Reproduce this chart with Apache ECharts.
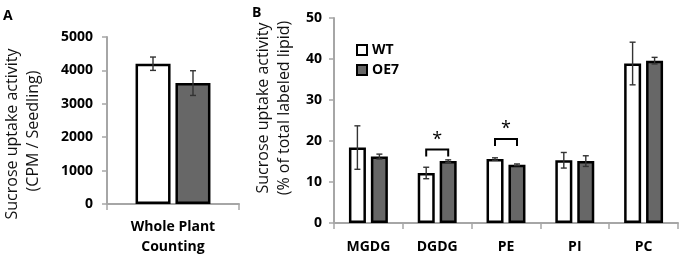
<!DOCTYPE html>
<html>
<head>
<meta charset="utf-8">
<script src="https://cdn.jsdelivr.net/npm/echarts@6/dist/echarts.min.js"></script>
<style>
  html, body { margin: 0; padding: 0; background: #fff; }
  #chart { width: 680px; height: 257px; }
</style>
</head>
<body>
<div id="chart"></div>
<script>
// panel A
var catsA = ['Whole Plant\nCounting']
var wtA = [4200]
var wtErrA = [200]
var oeA = [3620]
var oeErrA = [370]

// panel B
var catsB = ['MGDG', 'DGDG', 'PE', 'PI', 'PC']
var wtB = [18.4, 12.2, 15.6, 15.3, 38.9]
var wtErrB = [5.3, 1.4, 0.3, 1.9, 5.2]
var oeB = [16.2, 15.1, 14.2, 15.1, 39.6]
var oeErrB = [0.6, 0.3, 0.2, 1.3, 0.8]

// significance brackets (category index, bracket height)
var sigIndex = [1, 2]
var sigHeight = [17.9, 20.5]

var FONT = 'Open Sans'
var AXIS_GRAY = '#a6a6a6'
var OE_GRAY = '#676767'

var chart = echarts.init(document.getElementById('chart'))

function errRender(offset) {
  return function (params, api) {
    var x = api.value(0)
    var v = api.value(1)
    var e = api.value(2)
    var hi = api.coord([x, v + e])
    var lo = api.coord([x, v - e])
    var cx = hi[0] + offset
    var style = { stroke: '#333', lineWidth: 1.4 }
    return {
      type: 'group',
      children: [
        { type: 'line', shape: { x1: cx, y1: hi[1], x2: cx, y2: lo[1] }, style: style },
        { type: 'line', shape: { x1: cx - 3, y1: hi[1], x2: cx + 3, y2: hi[1] }, style: style },
        { type: 'line', shape: { x1: cx - 3, y1: lo[1], x2: cx + 3, y2: lo[1] }, style: style }
      ]
    }
  }
}

function errData(vals, errs) {
  return vals.map(function (v, i) { return [i, v, errs[i]] })
}

function barSeries(name, data, xi, width, gap, fill) {
  return {
    name: name,
    type: 'bar',
    xAxisIndex: xi,
    yAxisIndex: xi,
    data: data,
    barWidth: width,
    barGap: gap,
    itemStyle: { color: fill, borderColor: '#000', borderWidth: 2.5 },
    emphasis: { disabled: true },
    z: 2
  }
}

function axisY(max, interval, gi, margin) {
  return {
    type: 'value',
    gridIndex: gi,
    min: 0,
    max: max,
    interval: interval,
    splitLine: { show: false },
    axisLine: { show: true, lineStyle: { color: AXIS_GRAY, width: 2 } },
    axisTick: { show: true, length: 5, lineStyle: { color: AXIS_GRAY, width: 1.5 } },
    axisLabel: {
      color: '#000', fontFamily: FONT, fontWeight: 'bold', fontSize: 14, margin: margin,
      formatter: function (v) { return String(v) }
    }
  }
}

function axisX(cats, gi, margin) {
  return {
    type: 'category',
    gridIndex: gi,
    data: cats,
    axisLine: { show: true, lineStyle: { color: AXIS_GRAY, width: 2 } },
    axisTick: { show: true, length: 6, lineStyle: { color: AXIS_GRAY, width: 1.5 } },
    axisLabel: { color: '#000', fontFamily: FONT, fontWeight: 'bold', fontSize: 14, margin: margin, lineHeight: 20 }
  }
}

var option = {
  animation: false,
  grid: [
    { left: 107, top: 37, width: 132, height: 167 },
    { left: 334, top: 18, width: 344, height: 208 }
  ],
  xAxis: [axisX(catsA, 0, 13), axisX(catsB, 1, 14)],
  yAxis: [axisY(5000, 1000, 0, 14), axisY(50, 10, 1, 12)],
  legend: {
    data: ['WT', 'OE7'],
    orient: 'vertical',
    left: 351,
    top: 38,
    itemWidth: 10,
    itemHeight: 10,
    itemGap: 6,
    icon: 'rect',
    textStyle: { fontFamily: FONT, fontWeight: 'bold', fontSize: 14, color: '#000' }
  },
  graphic: [
    { type: 'text', left: 3, top: 9, style: { text: 'A', font: 'bold 14px "Open Sans"', fill: '#000' } },
    { type: 'text', left: 252, top: 6, style: { text: 'B', font: 'bold 14px "Open Sans"', fill: '#000' } },
    { type: 'text', x: 12, y: 134, rotation: Math.PI / 2,
      style: { text: 'Sucrose uptake activity', font: '16px "Open Sans"', fill: '#111', align: 'center', verticalAlign: 'middle' } },
    { type: 'text', x: 33, y: 131, rotation: Math.PI / 2,
      style: { text: '(CPM / Seedling)', font: '16px "Open Sans"', fill: '#111', align: 'center', verticalAlign: 'middle' } },
    { type: 'text', x: 263, y: 108, rotation: Math.PI / 2,
      style: { text: 'Sucrose uptake activity', font: '16px "Open Sans"', fill: '#111', align: 'center', verticalAlign: 'middle' } },
    { type: 'text', x: 284, y: 108, rotation: Math.PI / 2,
      style: { text: '(% of total labeled lipid)', font: '16px "Open Sans"', fill: '#111', align: 'center', verticalAlign: 'middle' } }
  ],
  series: [
    barSeries('WT', wtA, 0, 35, '14%', '#fff'),
    barSeries('OE7', oeA, 0, 35, '14%', OE_GRAY),
    barSeries('WT', wtB, 1, 17, '29%', '#fff'),
    barSeries('OE7', oeB, 1, 17, '29%', OE_GRAY),
    { type: 'custom', xAxisIndex: 0, yAxisIndex: 0, z: 5, data: errData(wtA, wtErrA), renderItem: errRender(-20) },
    { type: 'custom', xAxisIndex: 0, yAxisIndex: 0, z: 5, data: errData(oeA, oeErrA), renderItem: errRender(20) },
    { type: 'custom', xAxisIndex: 1, yAxisIndex: 1, z: 5, data: errData(wtB, wtErrB), renderItem: errRender(-11) },
    { type: 'custom', xAxisIndex: 1, yAxisIndex: 1, z: 5, data: errData(oeB, oeErrB), renderItem: errRender(11) },
    {
      type: 'custom', xAxisIndex: 1, yAxisIndex: 1, z: 5,
      data: sigIndex.map(function (c, i) { return [c, sigHeight[i]] }),
      renderItem: function (params, api) {
        var p = api.coord([api.value(0), api.value(1)])
        var x1 = p[0] - 11, x2 = p[0] + 11, y = p[1]
        return {
          type: 'group',
          children: [
            { type: 'polyline', shape: { points: [[x1, y + 7], [x1, y], [x2, y], [x2, y + 7]] },
              style: { stroke: '#000', lineWidth: 2, fill: null } },
            { type: 'text', x: p[0], y: y - 10,
              style: { text: '*', font: '18px "Open Sans"', fill: '#000', align: 'center', verticalAlign: 'middle' } }
          ]
        }
      }
    }
  ]
}
option && chart.setOption(option)
</script>
</body>
</html>
